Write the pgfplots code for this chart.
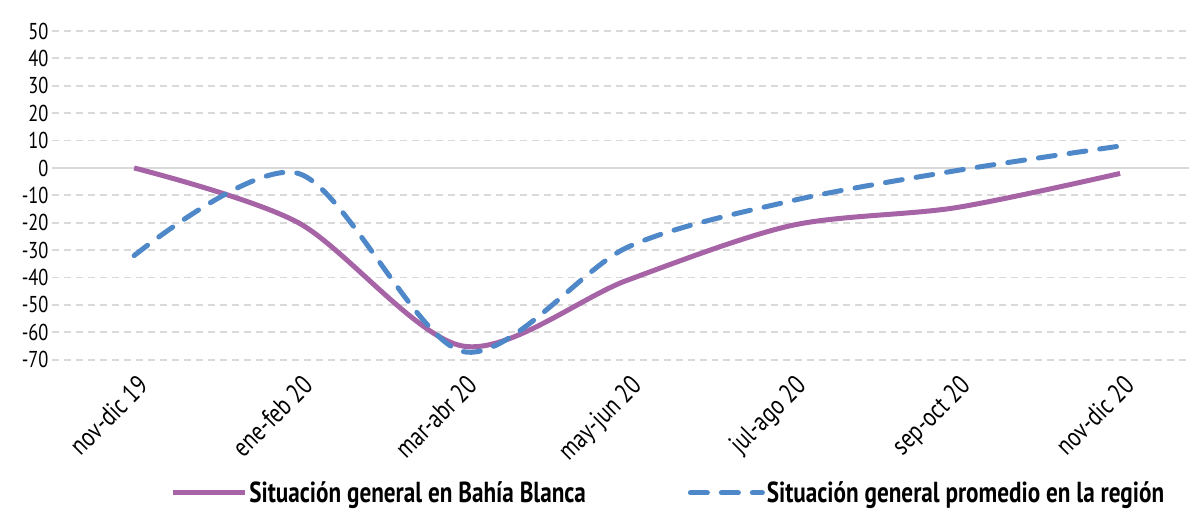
\documentclass[border=0pt]{standalone}
\usepackage{fontspec}
\setmainfont{PT Sans}[FakeStretch=0.8]
\usepackage{pgfplots}
\pgfplotsset{compat=1.18}
\definecolor{purp}{RGB}{166,100,166}
\definecolor{blu}{RGB}{79,136,200}
\definecolor{grd}{RGB}{217,217,217}
\begin{document}
\begin{tikzpicture}
\begin{axis}[name=ax, scale only axis, width=1138pt, height=329pt,
  xmin=-0.5, xmax=6.42, ymin=-70, ymax=50,
  ytick={-70,-60,-50,-40,-30,-20,-10,10,20,30,40,50},
  extra y ticks={0},
  extra y tick style={grid style={solid, grd, line width=1.8pt}},
  xtick={0,...,6},
  xticklabels={nov-dic 19, ene-feb 20, mar-abr 20, may-jun 20, jul-ago 20, sep-oct 20, nov-dic 20},
  axis line style={draw=none}, tick style={draw=none},
  ymajorgrids, grid style={grd, line width=1.8pt, dash pattern=on 7pt off 5pt},
  font=\fontsize{23}{26}\selectfont,
  /pgf/number format/assume math mode=true,
  yticklabel style={font=\fontsize{23}{26}\selectfont},
  xticklabel style={font=\fontsize{27}{30}\selectfont, rotate=45, anchor=north east, xshift=-5pt, yshift=-8pt},
  legend columns=2,
  legend style={at={(0.542,-0.405)}, anchor=center, draw=none, fill=none,
    font=\fontsize{29}{32}\selectfont\bfseries,
    /tikz/column 2/.style={column sep=100pt}},
  legend image code/.code={\draw[#1] (0pt,0pt) -- (72pt,0pt);},
]
\addplot[purp, line width=5pt, smooth, tension=0.5] coordinates {
 (0,0) (1,-20) (2,-65) (3,-41) (4,-21) (5,-14.5) (6,-2)};
\addlegendentry{Situación general en Bahía Blanca}
\addplot[blu, line width=5pt, smooth, tension=0.5, line cap=round, dash pattern=on 17pt off 14pt] coordinates {
 (0,-32) (1,-2) (2,-67) (3,-29) (4,-12) (5,-1) (6,8)};
\addlegendentry{Situación general promedio en la región}
\end{axis}
\path[use as bounding box] ([shift={(-52pt,-152pt)}]ax.south west) rectangle ([shift={(0pt,31pt)}]ax.north east);
\end{tikzpicture}
\end{document}
